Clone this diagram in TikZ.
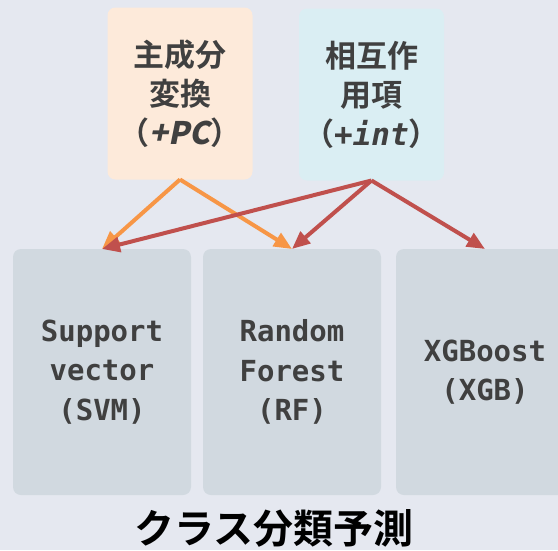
\documentclass[tikz,border=0pt]{standalone}
\usepackage{fontspec}
\newfontfamily\cjkfont{Noto Sans CJK JP}[BoldFont={Noto Sans CJK JP Bold}]
\newfontfamily\cjkslant{Noto Sans CJK JP Bold}[FakeSlant=0.2]
\newfontfamily\codefont{DejaVu Sans Mono}
\usetikzlibrary{arrows.meta}
\definecolor{bgcol}{HTML}{E5E8F0}
\definecolor{pcfill}{HTML}{FDEADA}
\definecolor{intfill}{HTML}{DAEEF3}
\definecolor{modelfill}{HTML}{D1D9E0}
\definecolor{txtgray}{HTML}{404040}
\definecolor{pcarrow}{HTML}{F79646}
\definecolor{intarrow}{HTML}{C0504D}

\begin{document}
\begin{tikzpicture}[x=1pt, y=-1pt,
    feat/.style={rounded corners=8pt, minimum width=145pt, minimum height=172pt, inner sep=0pt, outer sep=0pt, align=center, text=txtgray, font=\cjkfont\bfseries\fontsize{31}{39}\selectfont},
    model/.style={fill=modelfill, rounded corners=8pt, minimum width=178pt, minimum height=246pt, inner sep=0pt, outer sep=0pt, align=center, text=txtgray, font=\codefont\bfseries\fontsize{29}{39.5}\selectfont},
    arr/.style={-{Triangle[length=18pt, width=15pt]}, line width=4pt}
]
\fill[bgcol] (0,0) rectangle (558,550);
\clip (0,0) rectangle (558,550);

% feature boxes
\node[feat, fill=pcfill] (pc) at (180,93.5) {主成分\\変換\\（{\cjkslant +PC}）};
\node[feat, fill=intfill] (int) at (371.5,94.5) {相互作\\用項\\（{\codefont\bfseries\itshape +int}）};

% classifiers
\node[model] (svm) at (102,372) {Support\\vector\\(SVM)};
\node[model] (rf) at (292,372) {Random\\Forest\\(RF)};
\node[model] (xgb) at (485,372) {XGBoost\\(XGB)};

\node[font=\cjkfont\bfseries\fontsize{40}{40}\selectfont] (title) at (274,528) {クラス分類予測};

\draw[arr, pcarrow] (pc.south) -- (svm.north);
\draw[arr, pcarrow] (pc.south) -- (rf.north);
\draw[arr, intarrow] (int.south) -- (svm.north);
\draw[arr, intarrow] (int.south) -- (rf.north);
\draw[arr, intarrow] (int.south) -- (xgb.north);
\end{tikzpicture}
\end{document}
